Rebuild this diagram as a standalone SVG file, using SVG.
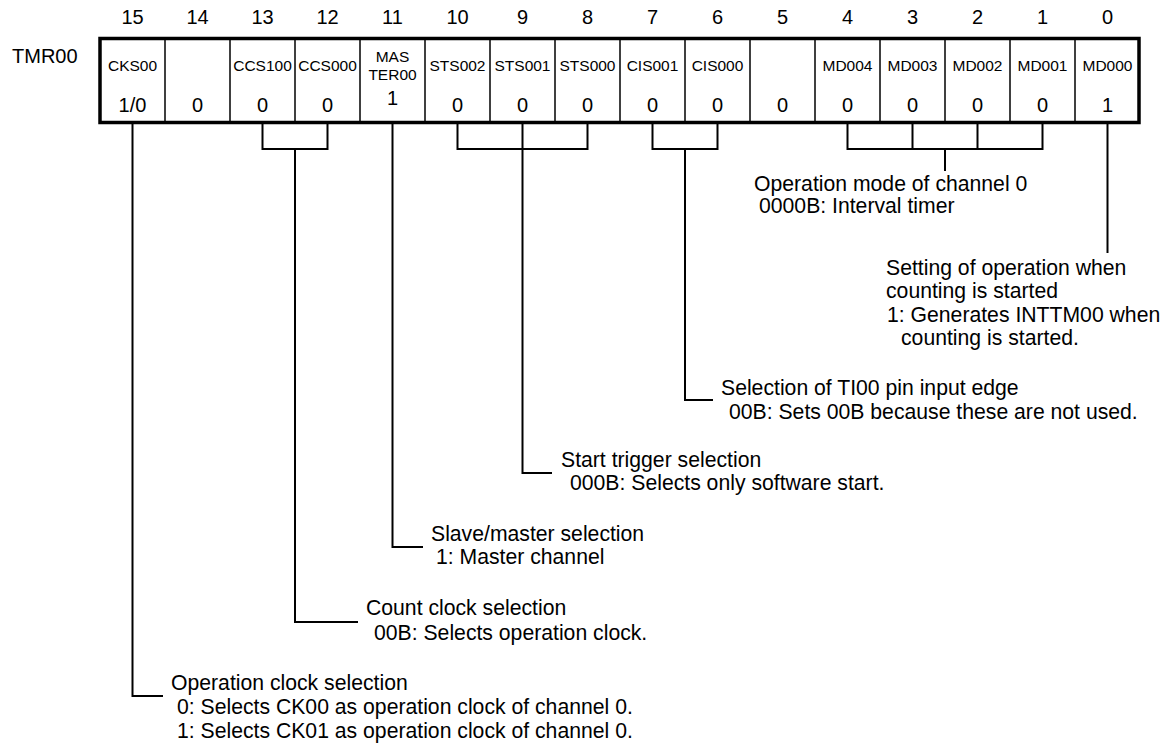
<svg xmlns="http://www.w3.org/2000/svg" width="1162" height="746" viewBox="0 0 1162 746">
<style>
text{font-family:"Liberation Sans",Arial,Helvetica,sans-serif;fill:#000}
.bit{font-size:20px;text-anchor:middle}
.fld{font-size:15.5px;text-anchor:middle}
.val{font-size:20px;text-anchor:middle}
.desc{font-size:21.2px}
.div{stroke:#000;stroke-width:1.5}
.con{fill:none;stroke:#000;stroke-width:2}
</style>
<rect width="1162" height="746" fill="#fff"/>
<g id="bitnumbers">
<text class="bit" x="132.5" y="24">15</text>
<text class="bit" x="197.5" y="24">14</text>
<text class="bit" x="262.5" y="24">13</text>
<text class="bit" x="327.5" y="24">12</text>
<text class="bit" x="392.5" y="24">11</text>
<text class="bit" x="457.5" y="24">10</text>
<text class="bit" x="522.5" y="24">9</text>
<text class="bit" x="587.5" y="24">8</text>
<text class="bit" x="652.5" y="24">7</text>
<text class="bit" x="717.5" y="24">6</text>
<text class="bit" x="782.5" y="24">5</text>
<text class="bit" x="847.5" y="24">4</text>
<text class="bit" x="912.5" y="24">3</text>
<text class="bit" x="977.5" y="24">2</text>
<text class="bit" x="1042.5" y="24">1</text>
<text class="bit" x="1107.5" y="24">0</text>
</g>
<g id="register-name"><text x="12" y="63" style="font-size:20px">TMR00</text></g>
<g id="register">
<rect x="100" y="38.5" width="1039" height="84" fill="none" stroke="#000" stroke-width="3.5"/>
<line class="div" x1="165" y1="40" x2="165" y2="121"/>
<line class="div" x1="230" y1="40" x2="230" y2="121"/>
<line class="div" x1="295" y1="40" x2="295" y2="121"/>
<line class="div" x1="360" y1="40" x2="360" y2="121"/>
<line class="div" x1="425" y1="40" x2="425" y2="121"/>
<line class="div" x1="490" y1="40" x2="490" y2="121"/>
<line class="div" x1="555" y1="40" x2="555" y2="121"/>
<line class="div" x1="620" y1="40" x2="620" y2="121"/>
<line class="div" x1="685" y1="40" x2="685" y2="121"/>
<line class="div" x1="750" y1="40" x2="750" y2="121"/>
<line class="div" x1="815" y1="40" x2="815" y2="121"/>
<line class="div" x1="880" y1="40" x2="880" y2="121"/>
<line class="div" x1="945" y1="40" x2="945" y2="121"/>
<line class="div" x1="1010" y1="40" x2="1010" y2="121"/>
<line class="div" x1="1075" y1="40" x2="1075" y2="121"/>
</g>
<g id="fields">
<text class="fld" x="132.5" y="71">CKS00</text>
<text class="fld" x="262.5" y="71">CCS100</text>
<text class="fld" x="327.5" y="71">CCS000</text>
<text class="fld" x="392.5" y="62">MAS</text>
<text class="fld" x="392.5" y="80">TER00</text>
<text class="fld" x="457.5" y="71">STS002</text>
<text class="fld" x="522.5" y="71">STS001</text>
<text class="fld" x="587.5" y="71">STS000</text>
<text class="fld" x="652.5" y="71">CIS001</text>
<text class="fld" x="717.5" y="71">CIS000</text>
<text class="fld" x="847.5" y="71">MD004</text>
<text class="fld" x="912.5" y="71">MD003</text>
<text class="fld" x="977.5" y="71">MD002</text>
<text class="fld" x="1042.5" y="71">MD001</text>
<text class="fld" x="1107.5" y="71">MD000</text>
</g>
<g id="values">
<text class="val" x="132.5" y="112">1/0</text>
<text class="val" x="197.5" y="112">0</text>
<text class="val" x="262.5" y="112">0</text>
<text class="val" x="327.5" y="112">0</text>
<text class="val" x="392.5" y="105">1</text>
<text class="val" x="457.5" y="112">0</text>
<text class="val" x="522.5" y="112">0</text>
<text class="val" x="587.5" y="112">0</text>
<text class="val" x="652.5" y="112">0</text>
<text class="val" x="717.5" y="112">0</text>
<text class="val" x="782.5" y="112">0</text>
<text class="val" x="847.5" y="112">0</text>
<text class="val" x="912.5" y="112">0</text>
<text class="val" x="977.5" y="112">0</text>
<text class="val" x="1042.5" y="112">0</text>
<text class="val" x="1107.5" y="112">1</text>
</g>
<g id="connectors">
<path class="con" d="M132.5 124V696H163"/>
<path class="con" d="M262.5 124V149H327.5V124M295 149V622H358"/>
<path class="con" d="M392.5 124V547H423"/>
<path class="con" d="M457.5 124V149H587.5V124M522.5 124V473H552"/>
<path class="con" d="M652.5 124V149H717.5V124M685 149V400H713"/>
<path class="con" d="M847.5 124V149H1042.5V124M912.5 124V149M977.5 124V149M945 149V171"/>
<path class="con" d="M1107.5 124V253"/>
</g>
<g id="desc-md">
<text class="desc" x="754" y="191">Operation mode of channel 0</text>
<text class="desc" x="759" y="213">0000B: Interval timer</text>
</g>
<g id="desc-md000">
<text class="desc" x="886" y="275">Setting of operation when</text>
<text class="desc" x="886" y="298">counting is started</text>
<text class="desc" x="887" y="322">1: Generates INTTM00 when</text>
<text class="desc" x="901" y="345">counting is started.</text>
</g>
<g id="desc-cis">
<text class="desc" x="721" y="395">Selection of TI00 pin input edge</text>
<text class="desc" x="729" y="419">00B: Sets 00B because these are not used.</text>
</g>
<g id="desc-sts">
<text class="desc" x="561" y="467">Start trigger selection</text>
<text class="desc" x="570" y="490">000B: Selects only software start.</text>
</g>
<g id="desc-master">
<text class="desc" x="431" y="541">Slave/master selection</text>
<text class="desc" x="436" y="564">1: Master channel</text>
</g>
<g id="desc-ccs">
<text class="desc" x="366" y="615">Count clock selection</text>
<text class="desc" x="374" y="640">00B: Selects operation clock.</text>
</g>
<g id="desc-cks">
<text class="desc" x="171" y="690">Operation clock selection</text>
<text class="desc" x="177" y="714">0: Selects CK00 as operation clock of channel 0.</text>
<text class="desc" x="177" y="738">1: Selects CK01 as operation clock of channel 0.</text>
</g>
</svg>
